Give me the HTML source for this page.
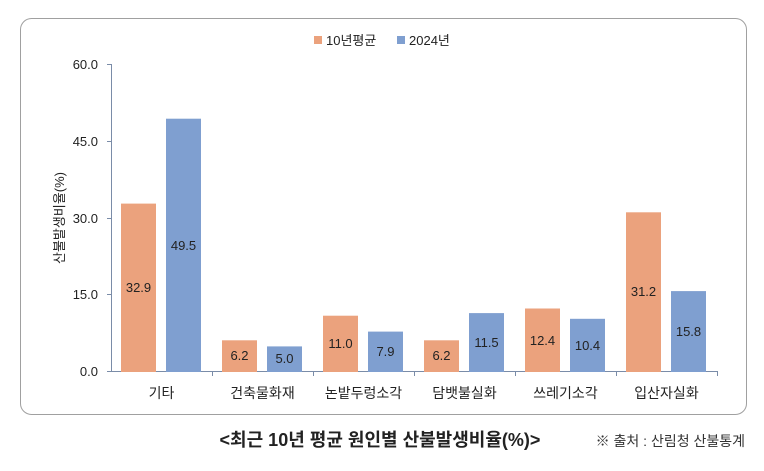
<!DOCTYPE html>
<html><head><meta charset="utf-8"><style>
body{margin:0;background:#fff;width:764px;height:466px;overflow:hidden;font-family:"Liberation Sans","Noto Sans CJK KR",sans-serif;}
</style></head><body>
<svg width="764" height="466" xmlns="http://www.w3.org/2000/svg" font-family="Liberation Sans, Noto Sans CJK KR, sans-serif">
<rect x="20.5" y="18.5" width="726" height="396" rx="11" fill="#fff" stroke="#a0a0a0" stroke-width="1"/>
<rect x="314" y="36" width="8" height="8" fill="#eba27d"/>
<text x="326" y="45" font-size="13" fill="#222">10년평균</text>
<rect x="397" y="36" width="8" height="8" fill="#7f9fd0"/>
<text x="409" y="45" font-size="13" fill="#222">2024년</text>
<g stroke="#7a8ca8" stroke-width="1">
<line x1="111.5" y1="64" x2="111.5" y2="372"/>
<line x1="107" y1="64.5" x2="111" y2="64.5"/>
<line x1="107" y1="141.5" x2="111" y2="141.5"/>
<line x1="107" y1="218.5" x2="111" y2="218.5"/>
<line x1="107" y1="294.5" x2="111" y2="294.5"/>
<line x1="107" y1="371.5" x2="111" y2="371.5"/>
<line x1="111" y1="371.5" x2="717" y2="371.5"/>
<line x1="212.5" y1="371" x2="212.5" y2="376"/>
<line x1="313.5" y1="371" x2="313.5" y2="376"/>
<line x1="414.5" y1="371" x2="414.5" y2="376"/>
<line x1="515.5" y1="371" x2="515.5" y2="376"/>
<line x1="616.5" y1="371" x2="616.5" y2="376"/>
<line x1="717.5" y1="371" x2="717.5" y2="376"/>
</g>
<g font-size="13" fill="#222" text-anchor="end">
<text x="98" y="69">60.0</text>
<text x="98" y="146">45.0</text>
<text x="98" y="223">30.0</text>
<text x="98" y="299">15.0</text>
<text x="98" y="376">0.0</text>
</g>
<text transform="translate(64,218) rotate(-90)" font-size="13" fill="#222" text-anchor="middle">산불발생비율(%)</text>
<g fill="#eba27d">
<rect x="121" y="203.6" width="35" height="168.4"/>
<rect x="222" y="340.3" width="35" height="31.7"/>
<rect x="323" y="315.7" width="35" height="56.3"/>
<rect x="424" y="340.3" width="35" height="31.7"/>
<rect x="525" y="308.5" width="35" height="63.5"/>
<rect x="626" y="212.3" width="35" height="159.7"/>
</g>
<g fill="#7f9fd0">
<rect x="166" y="118.7" width="35" height="253.3"/>
<rect x="267" y="346.4" width="35" height="25.6"/>
<rect x="368" y="331.6" width="35" height="40.4"/>
<rect x="469" y="313.1" width="35" height="58.9"/>
<rect x="570" y="318.8" width="35" height="53.2"/>
<rect x="671" y="291.1" width="35" height="80.9"/>
</g>
<g font-size="13" fill="#222" text-anchor="middle">
<text x="138.5" y="292">32.9</text>
<text x="183.5" y="250">49.5</text>
<text x="239.5" y="360">6.2</text>
<text x="284.5" y="363">5.0</text>
<text x="340.5" y="348">11.0</text>
<text x="385.5" y="356">7.9</text>
<text x="441.5" y="360">6.2</text>
<text x="486.5" y="347">11.5</text>
<text x="542.5" y="345">12.4</text>
<text x="587.5" y="350">10.4</text>
<text x="643.5" y="296">31.2</text>
<text x="688.5" y="336">15.8</text>
</g>
<g font-size="14" fill="#222" text-anchor="middle">
<text x="161.5" y="398">기타</text>
<text x="262.5" y="398">건축물화재</text>
<text x="363.5" y="398">논밭두렁소각</text>
<text x="464.5" y="398">담뱃불실화</text>
<text x="565.5" y="398">쓰레기소각</text>
<text x="666.5" y="398">입산자실화</text>
</g>
<text x="380" y="446" font-size="18" font-weight="bold" fill="#222" text-anchor="middle">&lt;최근 10년 평균 원인별 산불발생비율(%)&gt;</text>
<text x="745" y="446" font-size="14" fill="#333" text-anchor="end">※ 출처 : 산림청 산불통계</text>
</svg>
</body></html>
